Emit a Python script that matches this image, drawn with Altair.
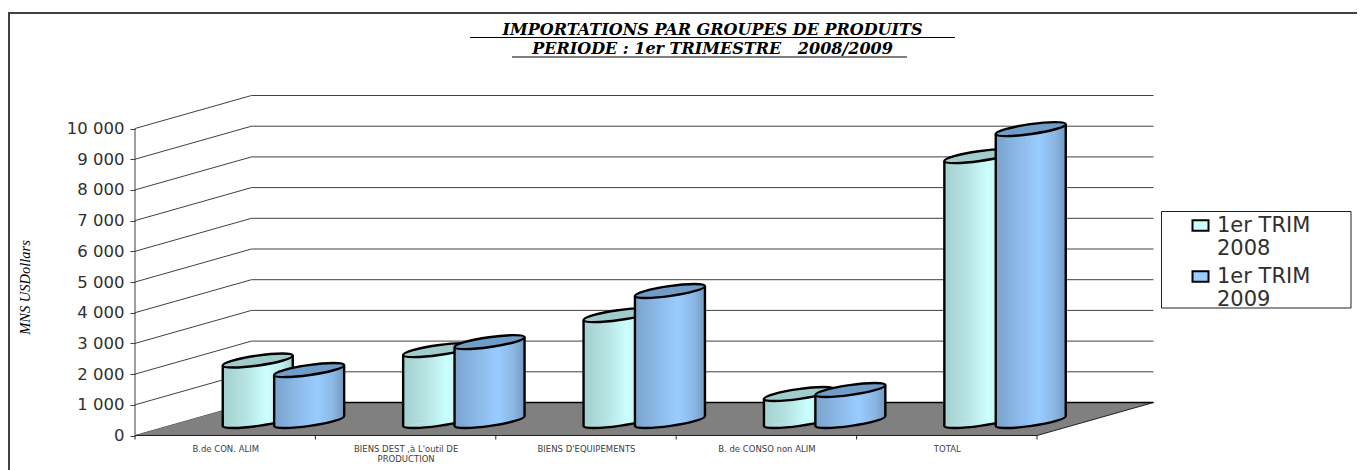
import altair as alt
import pandas as pd

categories = ["B.de CON. ALIM", "BIENS DEST ,à L'outil DE PRODUCTION", "BIENS D'EQUIPEMENTS", "B. de CONSO non ALIM", "TOTAL"]
series_names = ["1er TRIM 2008", "1er TRIM 2009"]
values_2008 = [1920, 2260, 3400, 830, 8580]
values_2009 = [1610, 2520, 4185, 960, 9460]
y_ticks = list(range(0, 11000, 1000))

W, H = 1349, 458
PX_X = 180.4            # pixels per category
PX_Y = 0.0307           # pixels per value unit
X0, Y0 = 135, 435.5     # page pixel of category 0 / value 0
xdom = [(8 - X0) / PX_X, (8 + W - X0) / PX_X]
ydom = [(Y0 - 470) / PX_Y, (Y0 - 12) / PX_Y]
DX = 116.5 / PX_X       # depth of the 3D box in x units
DY = 33 / PX_Y          # depth of the 3D box in y units
HALF = 35 / PX_X        # half cylinder width
SHEAR = 5 / PX_Y        # drop of the left side against centre
GAP = 25.7 / PX_X       # half distance between two cylinders
BASE_DROP = 1.5 / PX_Y  # cylinders stand a little in front of mid-depth

xs = alt.Scale(domain=xdom, nice=False, zero=False)
ys = alt.Scale(domain=ydom, nice=False, zero=False)
X = lambda f="x": alt.X(f"{f}:Q", scale=xs)
Y = lambda f="y": alt.Y(f"{f}:Q", scale=ys, stack=None)
px = lambda p: (p - X0) / PX_X
py = lambda p: (Y0 - p) / PX_Y

# ---- frame
frame_top = pd.DataFrame({"x": [px(8)], "x2": [px(1357)], "y": [py(13)]})
frame_left = pd.DataFrame({"x": [px(9)], "y": [py(12)], "y2": [py(470)]})
frame_layers = [
    alt.Chart(frame_top).mark_rule(color="#404040", strokeWidth=2).encode(X(), alt.X2("x2:Q"), Y()),
    alt.Chart(frame_left).mark_rule(color="#404040", strokeWidth=2).encode(X(), Y(), alt.Y2("y2:Q")),
]

# ---- walls and floor
grid = pd.DataFrame([
    {"v": v, "x": x, "y": v + d} for v in y_ticks for x, d in ((0, 0), (DX, DY), (5 + DX, DY))
])
grid_layer = alt.Chart(grid).mark_line(color="#404040", strokeWidth=1).encode(X(), Y(), detail="v:N")
floor = pd.DataFrame({"x": [0, DX, 5, 5 + DX], "y": [0, DY, DY, DY], "y2": [0, 0, 0, DY]})
floor_layer = alt.Chart(floor).mark_area(color="#808080").encode(X(), Y(), alt.Y2("y2:Q"))
back_edge = pd.DataFrame({"x": [DX, 5 + DX], "y": [DY, DY]})
back_layer = alt.Chart(back_edge).mark_line(color="black", strokeWidth=1.5).encode(X(), Y())
front_edge = pd.DataFrame({"x": [0, 5, 5 + DX], "y": [0, 0, DY]})
front_layer = alt.Chart(front_edge).mark_line(color="#202020", strokeWidth=1).encode(X(), Y())
wall = pd.DataFrame({"x": [0], "y": [0], "y2": [10000]})
wall_layer = alt.Chart(wall).mark_rule(color="#404040", strokeWidth=1).encode(X(), Y(), alt.Y2("y2:Q"))
tk = pd.DataFrame({"x": list(range(6)), "y": [0] * 6, "y2": [py(439.5)] * 6})
tick_layer = alt.Chart(tk).mark_rule(color="#202020", strokeWidth=1).encode(X(), Y(), alt.Y2("y2:Q"))

# ---- axes (carried by an invisible layer)
x_expr = "{0.5:'B.de CON. ALIM',1.5:['BIENS DEST ,à L\\'outil DE','PRODUCTION'],2.5:'BIENS D\\'EQUIPEMENTS',3.5:'B. de CONSO non ALIM',4.5:'TOTAL'}[datum.value]"
axis_layer = alt.Chart(pd.DataFrame({"x": [0.5], "y": [0]})).mark_point(opacity=0).encode(
    x=alt.X("x:Q", scale=xs, axis=alt.Axis(
        values=[0.5, 1.5, 2.5, 3.5, 4.5], labelExpr=x_expr, title=None, domain=False, ticks=False, grid=False,
        offset=-34.5, labelPadding=9, labelFontSize=8.5, labelFont="DejaVu Sans", labelColor="#404040",
        labelLineHeight=10, labelBaseline="top", labelFlush=False, labelOverlap=False, labelLimit=200)),
    y=alt.Y("y:Q", scale=ys, axis=alt.Axis(
        values=y_ticks, labelExpr="replace(format(datum.value,'d'),/(\\d)(\\d{3})$/,'$1 $2')",
        title="MNS USDollars", titleFont="Liberation Serif", titleFontStyle="italic", titleFontWeight="normal",
        titleFontSize=14.5, titleColor="black", titleX=-103, titleY=275, domain=False, grid=False,
        tickColor="#404040", tickSize=5, offset=-127, labelPadding=6, labelFontSize=16.5,
        labelFont="DejaVu Sans", labelColor="#303030", labelOverlap=False)),
)

# ---- cylinders
ELLIPSE = "M -0.99 0.1414 A 1 0.14 -8.13 1 1 0.99 -0.1414 A 1 0.14 -8.13 1 1 -0.99 0.1414 Z"
ESIZE = (2 * 35.36) ** 2

rows, centres = [], []
for s, (name, vals, sgn) in enumerate(zip(series_names, (values_2008, values_2009), (-1, 1))):
    for i, v in enumerate(vals):
        c = i + 0.5 + DX / 2 + sgn * GAP
        top = v + 32 / PX_Y / 2
        base = 32 / PX_Y / 2 - BASE_DROP
        centres.append({"series": name, "cat": categories[i], "x": c, "top": top, "base": base})
        rows.append({"series": name, "cat": categories[i], "x": c - HALF, "y": top - SHEAR, "y2": base - SHEAR})
        rows.append({"series": name, "cat": categories[i], "x": c + HALF, "y": top + SHEAR, "y2": base + SHEAR})
body = pd.DataFrame(rows)
cent = pd.DataFrame(centres)


def grad(cols):
    return alt.Gradient(gradient="linear", x1=0, x2=1, y1=0, y2=0,
                        stops=[alt.GradientStop(offset=o, color=c) for o, c in cols])


G = {
    series_names[0]: [(0, "#A3CFCF"), (0.35, "#B8E4E4"), (0.62, "#CCFFFF"), (0.85, "#BFEEEE"), (1, "#A3CFCF")],
    series_names[1]: [(0, "#7AA3CC"), (0.35, "#8DBBEA"), (0.62, "#99CCFF"), (0.85, "#8AB6E3"), (1, "#7399BF")],
}
TOPC = {series_names[0]: "#A0CCCC", series_names[1]: "#6F9DC8"}

# ---- legend box (the legend itself comes from the colour scale)
box = pd.DataFrame({"x": [px(1161.5)], "x2": [px(1351)], "y": [py(211.5)], "y2": [py(308)]})
box_layer = alt.Chart(box).mark_rect(fill="white", stroke="#202020", strokeWidth=1).encode(
    X(), alt.X2("x2:Q"), Y(), alt.Y2("y2:Q"))

legend_expr = "datum.label == '1er TRIM 2008' ? ['1er TRIM','2008'] : ['1er TRIM','2009']"
legend_layer = alt.Chart(body).mark_area(opacity=1).encode(
    X(), Y(), alt.Y2("y2:Q"), detail="cat:N",
    color=alt.Color("series:N", scale=alt.Scale(domain=series_names, range=["#CCFFFF", "#99CCFF"]),
                    legend=alt.Legend(title=None, orient="none", legendX=1182, legendY=203, padding=0,
                                      symbolType="M -1 -0.65 H 1 V 0.65 H -1 Z", symbolSize=256,
                                      symbolStrokeColor="black", symbolStrokeWidth=2, labelFont="DejaVu Sans",
                                      labelFontSize=21, labelColor="#303030",
                                      labelExpr=legend_expr, labelLimit=200, rowPadding=6, labelOffset=6)),
)

layers = frame_layers + [grid_layer, box_layer, floor_layer, back_layer, front_layer, wall_layer, tick_layer, axis_layer]
for name in series_names:
    c = cent[cent.series == name]
    b = body[body.series == name]
    layers.append(alt.Chart(c).mark_point(shape=ELLIPSE, size=ESIZE, filled=True, opacity=1, fill=grad(G[name]),
                                          stroke="black", strokeWidth=2.4).encode(X(), Y("base")))
    if name == series_names[0]:
        layers.append(legend_layer)
    layers.append(alt.Chart(b).mark_area(fill=grad(G[name]), opacity=1).encode(
        X(), Y(), alt.Y2("y2:Q"), detail="cat:N"))
    layers.append(alt.Chart(b).mark_rule(color="black", strokeWidth=2.4).encode(X(), Y(), alt.Y2("y2:Q")))
    layers.append(alt.Chart(c).mark_point(shape=ELLIPSE, size=ESIZE, filled=True, opacity=1, fill=TOPC[name],
                                          stroke="black", strokeWidth=2.4).encode(X(), Y("top")))

# ---- title underlines
ul = pd.DataFrame({"x": [px(470), px(512)], "x2": [px(955), px(907)], "y": [py(37.5), py(57)]})
layers.append(alt.Chart(ul).mark_rule(color="black", strokeWidth=1.2).encode(X(), alt.X2("x2:Q"), Y()))

chart = alt.layer(*layers).properties(
    width=W, height=H,
    autosize=alt.AutoSizeParams(type="none"),
    padding={"left": 0, "top": 4, "right": 0, "bottom": 0},
    title=alt.TitleParams(
        text=["IMPORTATIONS PAR GROUPES DE PRODUITS", "PERIODE : 1er TRIMESTRE\u00a0\u00a0\u00a02008/2009"],
        font="DejaVu Serif", fontSize=16, fontStyle="italic", fontWeight="bold", color="black",
        lineHeight=19.5, anchor="middle", dx=30, dy=46, offset=0),
).configure_view(stroke=None)

chart.save("out.html", embed_options={"renderer": "svg", "actions": False})
